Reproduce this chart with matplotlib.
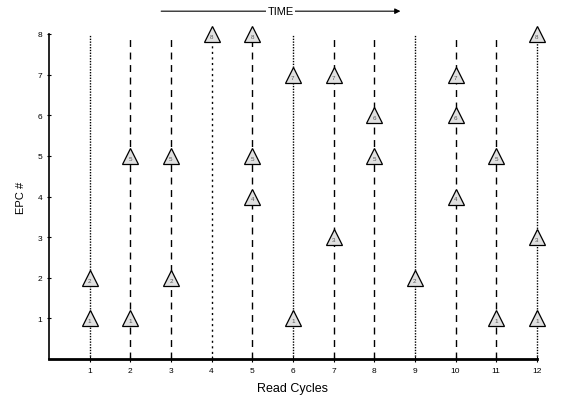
import matplotlib

matplotlib.use("Agg")
import matplotlib.pyplot as plt

plt.rcParams["font.family"] = ["Liberation Sans", "DejaVu Sans"]

# read cycle -> EPC numbers seen in that cycle
cycles = [1, 2, 3, 4, 5, 6, 7, 8, 9, 10, 11, 12]
epcs_read = [
    [1, 2],
    [1, 5],
    [2, 5],
    [8],
    [4, 5, 8],
    [1, 7],
    [3, 7],
    [5, 6],
    [2],
    [4, 6, 7],
    [1, 5],
    [1, 3, 8],
]
line_kinds = ["fine", "dash", "dash", "dot", "dash", "fine",
              "dash", "dash", "fine", "dash", "dash", "fine"]
y_ticks = [1, 2, 3, 4, 5, 6, 7, 8]

styles = {
    "fine": (0, (1, 1)),
    "dot": (0, (1.5, 2.5)),
    "dash": (0, (5, 4)),
}

fig = plt.figure(figsize=(5.76, 4.06), dpi=100)
ax = fig.add_axes([0.085, 0.113, 0.847, 0.801])

for c, kind in zip(cycles, line_kinds):
    ax.plot([c, c], [0, 8], color="black", lw=1.0, linestyle=styles[kind],
            clip_on=False, zorder=1)

for c, vals in zip(cycles, epcs_read):
    for v in vals:
        ax.plot(c, v, marker="^", markersize=11, markerfacecolor="#e0e0e0",
                markeredgecolor="black", markeredgewidth=0.9, linestyle="none",
                clip_on=False, zorder=3)
        ax.text(c, v - 0.06, str(v), fontsize=4.5, color="#555555",
                ha="center", va="center", zorder=4)

ax.set_xlim(0, 12)
ax.set_ylim(0, 8)
ax.set_xticks(cycles)
ax.set_yticks(y_ticks)
ax.tick_params(axis="both", labelsize=6, length=3, width=0.8, direction="inout")
ax.tick_params(axis="x", length=4)

for side in ("top", "right"):
    ax.spines[side].set_visible(False)
ax.spines["bottom"].set_linewidth(2.0)
ax.spines["left"].set_linewidth(1.2)

ax.set_xlabel("Read Cycles", fontsize=9, labelpad=6)
ax.set_ylabel("EPC #", fontsize=8, labelpad=8)

# time arrow above the plot
fig.text(0.487, 0.97, "TIME", fontsize=8, ha="center", va="center",
         bbox=dict(facecolor="white", edgecolor="none", pad=1), zorder=5)
ax.annotate("", xy=(0.70, 0.97), xytext=(0.275, 0.97),
            xycoords="figure fraction", textcoords="figure fraction",
            arrowprops=dict(arrowstyle="-|>", color="black", lw=0.8,
                            mutation_scale=8), zorder=2)

fig.savefig("out.png", dpi=100)
